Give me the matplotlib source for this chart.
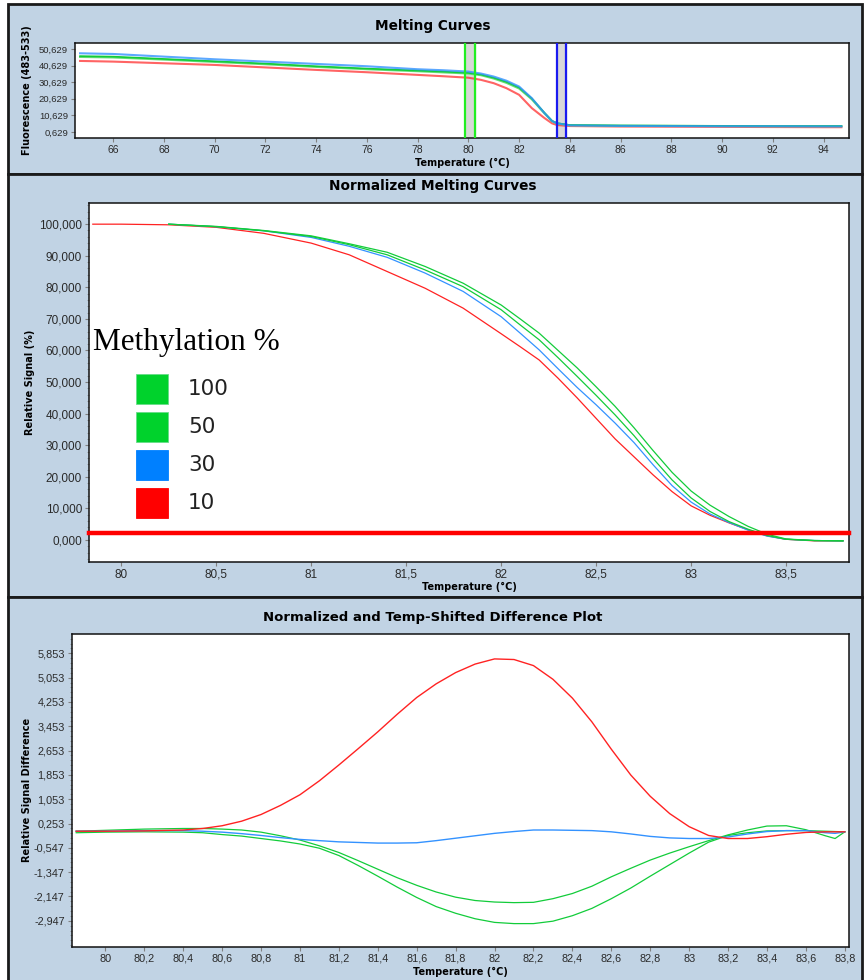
import matplotlib
matplotlib.use("Agg")
import matplotlib.pyplot as plt
from matplotlib.patches import Rectangle
from matplotlib.ticker import AutoMinorLocator, FixedLocator, FuncFormatter

# ---- raw melting curves (top panel), fluorescence in thousands ----
raw_temp = [64.7, 66, 68, 70, 72, 74, 76, 78, 79, 80, 80.5, 81, 81.5, 82, 82.5,
            83, 83.3, 83.5, 84, 86, 88, 90, 92, 94, 94.7]
raw_blue = [48.0, 47.6, 46.0, 44.4, 43.0, 41.6, 40.2, 38.4, 37.8, 37.0, 35.8, 34.0,
            31.5, 28.0, 21.0, 12.0, 7.2, 5.8, 4.6, 4.3, 4.2, 4.1, 4.1, 4.0, 4.0]
raw_green_100 = [46.3, 46.0, 44.6, 43.2, 41.8, 40.2, 38.8, 37.6, 37.0, 36.2, 35.2, 33.3,
                 30.8, 27.4, 20.8, 12.2, 7.3, 5.9, 4.8, 4.5, 4.4, 4.3, 4.2, 4.2, 4.2]
raw_green_50 = [45.8, 45.5, 44.2, 42.8, 41.4, 39.8, 38.4, 37.2, 36.5, 35.8, 34.8, 32.8,
                30.2, 26.8, 20.3, 11.8, 7.1, 5.8, 4.7, 4.4, 4.3, 4.2, 4.1, 4.1, 4.1]
raw_red = [43.4, 43.0, 42.0, 41.0, 39.5, 38.0, 36.6, 35.0, 34.2, 33.3, 32.0, 30.0,
           27.0, 23.0, 15.0, 9.0, 5.8, 4.8, 4.2, 3.9, 3.8, 3.7, 3.6, 3.5, 3.5]
pre_melt = (79.86, 80.25)
post_melt = (83.49, 83.86)

# ---- normalized melting curves (middle panel), relative signal % ----
norm_temp_red = [79.85, 80.0, 80.25, 80.5, 80.75, 81.0, 81.2, 81.4, 81.6, 81.8, 82.0,
                 82.1, 82.2, 82.3, 82.4, 82.5, 82.6, 82.7, 82.8, 82.9, 83.0, 83.1,
                 83.2, 83.3, 83.4, 83.5, 83.65, 83.8]
norm_red = [100.0, 100.0, 99.8, 99.0, 97.1, 94.0, 90.3, 85.0, 79.7, 73.4, 65.3,
            61.2, 57.0, 51.2, 45.0, 38.5, 32.0, 26.3, 20.6, 15.3, 10.8, 7.8,
            5.4, 3.2, 1.3, 0.2, -0.3, -0.3]
norm_temp = [80.25, 80.5, 80.75, 81.0, 81.2, 81.4, 81.6, 81.8, 82.0, 82.1, 82.2,
             82.3, 82.4, 82.5, 82.6, 82.7, 82.8, 82.9, 83.0, 83.1, 83.2, 83.3,
             83.4, 83.5, 83.65, 83.8]
norm_blue = [100.0, 99.2, 97.9, 95.8, 93.0, 89.5, 84.5, 78.7, 70.7, 65.5, 60.2,
             54.2, 48.3, 42.8, 37.0, 30.8, 23.8, 17.2, 12.0, 8.2, 5.5, 3.1,
             1.2, 0.2, -0.2, -0.3]
norm_green_50 = [100.0, 99.2, 97.9, 96.1, 93.5, 90.3, 85.5, 80.2, 72.9, 68.1, 63.4,
                 57.7, 51.8, 45.8, 39.6, 33.0, 25.8, 19.0, 13.3, 9.0, 5.8, 3.4,
                 1.4, 0.2, -0.2, -0.3]
norm_green_100 = [100.0, 99.3, 98.0, 96.3, 93.8, 91.1, 86.6, 81.3, 74.4, 70.0, 65.5,
                  60.0, 54.5, 48.5, 42.3, 35.5, 28.3, 21.4, 15.5, 11.0, 7.4, 4.3,
                  1.8, 0.3, -0.2, -0.3]
threshold = 2.1

legend_labels = ["100", "50", "30", "10"]
legend_colors = ["#00D22C", "#00D22C", "#0080FF", "#FF0000"]

# ---- difference plot (bottom panel) ----
diff_temp = [79.85, 80.0, 80.2, 80.4, 80.5, 80.6, 80.7, 80.8, 80.9, 81.0, 81.1, 81.2,
             81.3, 81.4, 81.5, 81.6, 81.7, 81.8, 81.9, 82.0, 82.1, 82.2, 82.3, 82.4,
             82.5, 82.6, 82.7, 82.8, 82.9, 83.0, 83.1, 83.2, 83.3, 83.4, 83.5, 83.6,
             83.7, 83.75, 83.8]
diff_red = [0.0, 0.0, 0.01, 0.04, 0.09, 0.18, 0.33, 0.55, 0.85, 1.20, 1.66, 2.18,
            2.72, 3.27, 3.85, 4.40, 4.85, 5.22, 5.50, 5.67, 5.65, 5.45, 5.00, 4.38,
            3.60, 2.70, 1.85, 1.15, 0.58, 0.15, -0.14, -0.24, -0.24, -0.18, -0.10, -0.04,
            -0.02, -0.02, -0.02]
diff_blue = [0.0, 0.0, 0.02, 0.02, 0.0, -0.03, -0.08, -0.14, -0.21, -0.27, -0.31, -0.35,
             -0.37, -0.39, -0.39, -0.38, -0.31, -0.23, -0.15, -0.07, -0.01, 0.04, 0.04, 0.03,
             0.02, -0.02, -0.09, -0.17, -0.22, -0.24, -0.24, -0.19, -0.09, -0.01, 0.02, 0.02,
             -0.05, -0.07, -0.02]
diff_green_a = [0.0, 0.03, 0.07, 0.09, 0.09, 0.07, 0.04, -0.03, -0.15, -0.29, -0.48, -0.70,
                -0.97, -1.25, -1.53, -1.78, -2.00, -2.17, -2.28, -2.33, -2.35, -2.34, -2.22, -2.05,
                -1.81, -1.50, -1.22, -0.95, -0.72, -0.51, -0.31, -0.12, 0.04, 0.17, 0.18, 0.05,
                -0.15, -0.24, -0.02]
diff_green_b = [-0.05, -0.03, -0.02, -0.03, -0.05, -0.11, -0.16, -0.24, -0.32, -0.42, -0.56, -0.80,
                -1.13, -1.48, -1.84, -2.18, -2.48, -2.70, -2.88, -3.00, -3.04, -3.04, -2.96, -2.78,
                -2.54, -2.22, -1.87, -1.48, -1.10, -0.72, -0.36, -0.14, -0.05, 0.01, 0.02, 0.02,
                0.0, -0.01, -0.02]

BG = "#C1D3E4"
GREEN = "#12CC3A"
BLUE = "#3392FF"
RED = "#FF2222"
W, H = 864, 980


def px(x):
    return x / W


def py(y):
    return 1 - y / H


def comma(fmt):
    return FuncFormatter(lambda v, pos: (fmt % v).replace(".", ","))


def style_axis(ax, labelsize_x, labelsize_y):
    for side in ["left", "bottom", "top", "right"]:
        ax.spines[side].set_color("#111111")
        ax.spines[side].set_linewidth(1.1)
    ax.tick_params(which="major", direction="out", length=3, width=0.8, color="#808080",
                   pad=2, labelcolor="#2A2A2A")
    ax.tick_params(axis="x", labelsize=labelsize_x)
    ax.tick_params(axis="y", labelsize=labelsize_y)
    ax.tick_params(which="minor", direction="out", length=1.8, width=0.6, color="#909090")
    ax.set_facecolor("white")


plt.rcParams["font.family"] = ["Liberation Sans", "DejaVu Sans"]
fig = plt.figure(figsize=(W / 100, H / 100), dpi=100)
fig.patch.set_facecolor("white")

# panel frames
for top, bottom in [(4, 174), (174, 597), (597, 990)]:
    fig.add_artist(Rectangle((px(8), py(bottom)), px(862) - px(8), py(top) - py(bottom),
                             transform=fig.transFigure, facecolor=BG, edgecolor="#1A1A1A",
                             linewidth=2, zorder=-5))

# ---- top: melting curves ----
ax1 = fig.add_axes([px(75), py(138), px(849) - px(75), py(43) - py(138)])
style_axis(ax1, 7.5, 6.8)
ax1.axvspan(*pre_melt, color="#D8D8D8", zorder=1)
ax1.axvspan(*post_melt, color="#D8D8D8", zorder=1)
for xv in pre_melt:
    ax1.axvline(xv, color="#22EE22", linewidth=1.6, zorder=4)
for xv in post_melt:
    ax1.axvline(xv, color="#1A1AF0", linewidth=1.6, zorder=4)
ax1.plot(raw_temp, raw_red, color=RED, alpha=0.7, linewidth=1.5, zorder=2)
ax1.plot(raw_temp, raw_green_50, color="#66DD77", linewidth=1.5, zorder=2)
ax1.plot(raw_temp, raw_green_100, color=GREEN, linewidth=1.2, zorder=2)
ax1.plot(raw_temp, raw_blue, color=BLUE, alpha=0.8, linewidth=1.5, zorder=2)
ax1.set_xlim(64.5, 95)
ax1.set_ylim(-3.0, 54.2)
ax1.xaxis.set_major_locator(FixedLocator(list(range(66, 95, 2))))
ax1.yaxis.set_major_locator(FixedLocator([0.629 + 10 * k for k in range(6)]))
ax1.yaxis.set_major_formatter(comma("%.3f"))
fig.text(px(433), py(26), "Melting Curves", ha="center", va="center", fontsize=9.8,
         fontweight="bold", family="DejaVu Sans")
fig.text(px(462), py(163), "Temperature (°C)", ha="center", va="center", fontsize=7,
         fontweight="bold", family="DejaVu Sans")
fig.text(px(27), py(90), "Fluorescence (483-533)", ha="center", va="center", fontsize=7,
         fontweight="bold", rotation=90, family="DejaVu Sans")

# ---- middle: normalized melting curves ----
ax2 = fig.add_axes([px(89), py(561.7), px(848.7) - px(89), py(202.7) - py(561.7)])
style_axis(ax2, 8.5, 8.5)
ax2.axhline(threshold, color="#FF0000", linewidth=3.2, zorder=5, clip_on=False)
ax2.plot(norm_temp_red, norm_red, color=RED, linewidth=0.9, zorder=3)
ax2.plot(norm_temp, norm_blue, color=BLUE, linewidth=0.9, zorder=3)
ax2.plot(norm_temp, norm_green_50, color=GREEN, linewidth=0.9, zorder=3)
ax2.plot(norm_temp, norm_green_100, color=GREEN, linewidth=0.9, zorder=3)
ax2.set_xlim(79.83, 83.83)
ax2.set_ylim(-6.9, 106.8)
ax2.xaxis.set_major_locator(FixedLocator([80, 80.5, 81, 81.5, 82, 82.5, 83, 83.5]))
ax2.xaxis.set_major_formatter(comma("%g"))
ax2.yaxis.set_major_locator(FixedLocator(list(range(0, 101, 10))))
ax2.yaxis.set_major_formatter(comma("%.3f"))
ax2.yaxis.set_minor_locator(AutoMinorLocator(5))
fig.text(px(433), py(186), "Normalized Melting Curves", ha="center", va="center",
         fontsize=9.8, fontweight="bold", family="DejaVu Sans")
fig.text(px(469), py(587), "Temperature (°C)", ha="center", va="center", fontsize=7,
         fontweight="bold", family="DejaVu Sans")
fig.text(px(30), py(382), "Relative Signal (%)", ha="center", va="center", fontsize=7,
         fontweight="bold", rotation=90, family="DejaVu Sans")

# legend drawn as in the original screenshot
fig.text(px(93), py(350), "Methylation %", ha="left", va="baseline", fontsize=22.5,
         family="Liberation Serif", color="black", zorder=10)
for i, (lab, col) in enumerate(zip(legend_labels, legend_colors)):
    top = 374 + 38 * i
    fig.add_artist(Rectangle((px(136), py(top + 30)), px(32), py(top) - py(top + 30),
                             transform=fig.transFigure, facecolor=col,
                             edgecolor="#66DD88" if col == "#00D22C" else col,
                             linewidth=0.6, zorder=10))
    fig.text(px(188), py(top + 15), lab, ha="left", va="center", fontsize=15.5,
             family="DejaVu Sans", color="#222222", zorder=10)

# ---- bottom: difference plot ----
ax3 = fig.add_axes([px(71.7), py(946.7), px(848.7) - px(71.7), py(634.3) - py(946.7)])
style_axis(ax3, 7.8, 7.8)
ax3.plot(diff_temp, diff_green_b, color=GREEN, linewidth=0.9, zorder=3)
ax3.plot(diff_temp, diff_green_a, color=GREEN, linewidth=0.9, zorder=3)
ax3.plot(diff_temp, diff_blue, color=BLUE, linewidth=1.0, zorder=3)
ax3.plot(diff_temp, diff_red, color=RED, linewidth=1.0, zorder=4)
ax3.set_xlim(79.827, 83.82)
ax3.set_ylim(-3.80, 6.48)
ax3.xaxis.set_major_locator(FixedLocator([round(80 + 0.2 * k, 1) for k in range(20)]))
ax3.xaxis.set_major_formatter(comma("%g"))
ax3.yaxis.set_major_locator(FixedLocator([-2.947 + 0.8 * k for k in range(12)]))
ax3.yaxis.set_major_formatter(comma("%.3f"))
ax3.yaxis.set_minor_locator(AutoMinorLocator(5))
fig.text(px(433), py(618), "Normalized and Temp-Shifted Difference Plot", ha="center",
         va="center", fontsize=9.5, fontweight="bold", family="DejaVu Sans")
fig.text(px(460), py(972), "Temperature (°C)", ha="center", va="center", fontsize=7,
         fontweight="bold", family="DejaVu Sans")
fig.text(px(27), py(790), "Relative Signal Difference", ha="center", va="center",
         fontsize=7, fontweight="bold", rotation=90, family="DejaVu Sans")

fig.savefig("out.png", dpi=100, facecolor="white")
